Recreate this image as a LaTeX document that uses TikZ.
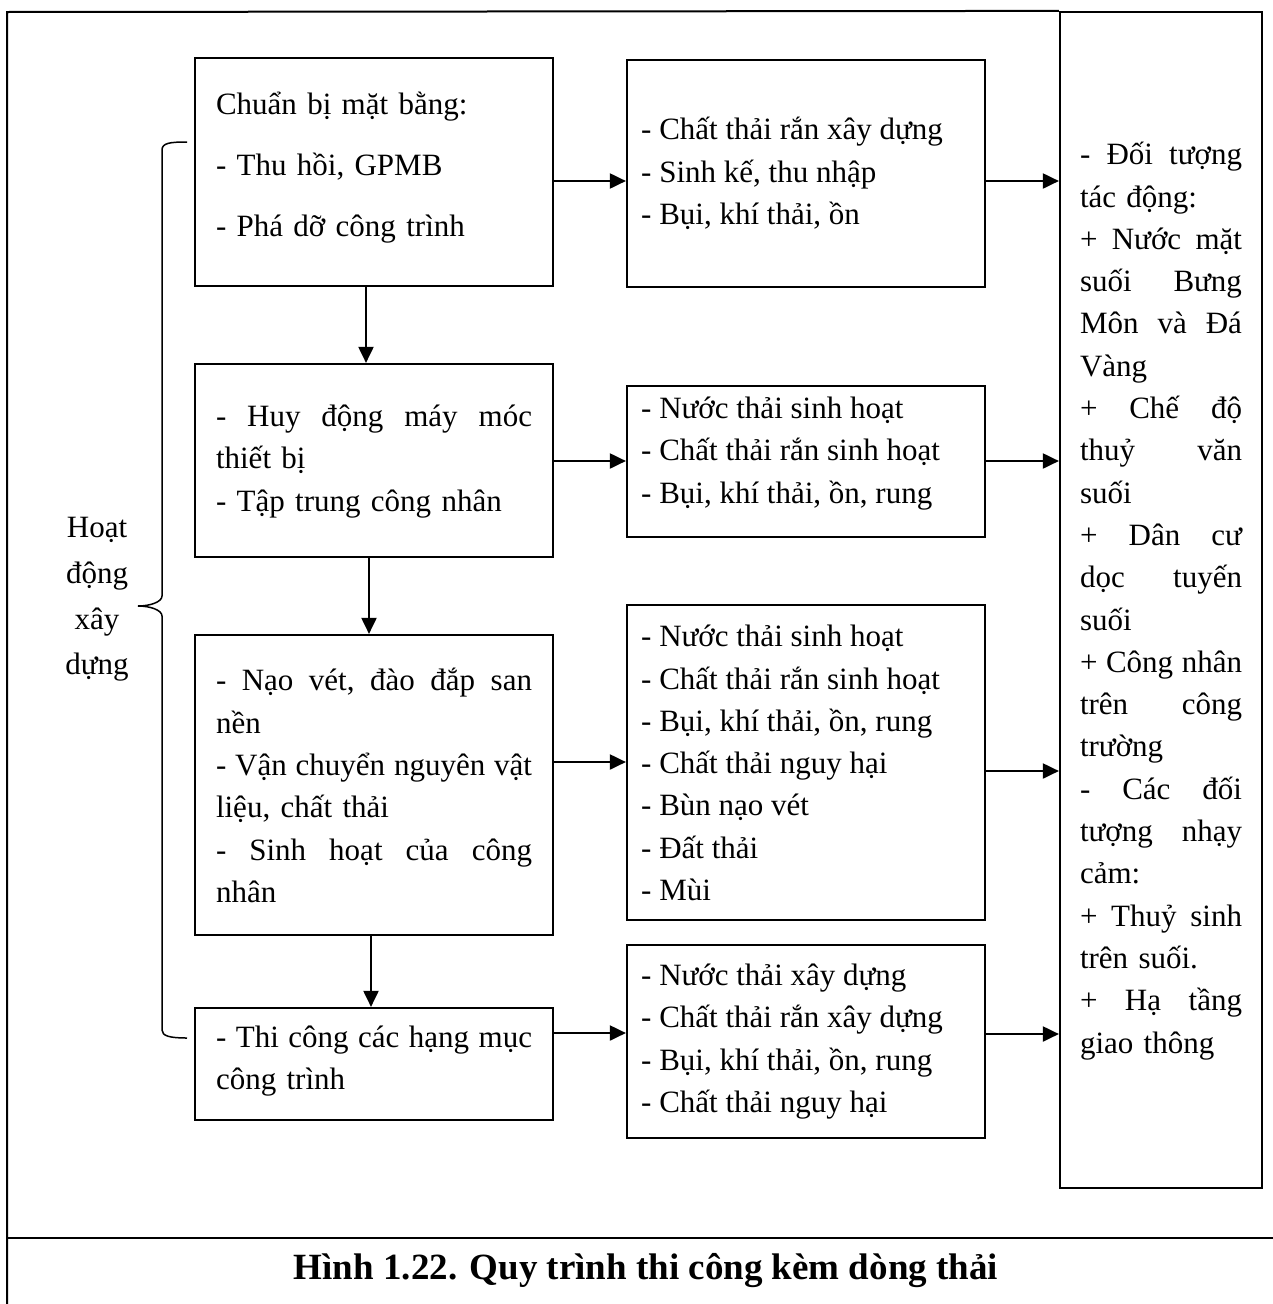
\documentclass[tikz,border=0pt]{standalone}
\usepackage{fontspec}
\setmainfont{Liberation Serif}
\usetikzlibrary{arrows.meta}
\begin{document}
\begin{tikzpicture}[x=1pt,y=-1pt,
  box/.style={draw,line width=2.2pt,inner sep=0pt,minimum width=358pt},
  txt/.style={inner sep=0pt,font=\fontsize{31}{42.3}\selectfont},
  arr/.style={line width=2pt,-{Triangle[length=16pt,width=15pt]}},
  frame/.style={line width=2pt}]
\useasboundingbox (0,0) rectangle (1273,1304);

% left column boxes
\node[box,minimum height=228pt] (b1) at (374,172) {};
\node[box,minimum height=193pt] (b2) at (374,460.5) {};
\node[box,minimum height=300pt] (b3) at (374,785) {};
\node[box,minimum height=112pt] (b4) at (374,1064) {};
% middle column boxes
\node[box,minimum height=227pt] (m1) at (806,173.5) {};
\node[box,minimum height=151pt] (m2) at (806,461.5) {};
\node[box,minimum height=315pt] (m3) at (806,762.5) {};
\node[box,minimum height=193pt] (m4) at (806,1041.5) {};
% right box
\node[box,minimum width=202pt,minimum height=1176pt] (r) at (1161,600) {};

% left texts
\node[txt,text width=316pt,align=left,font=\fontsize{31}{61}\selectfont] (t1) at (374,168)
  {Chuẩn bị mặt bằng:\\- Thu hồi, GPMB\\- Phá dỡ công trình};
\node[txt,text width=316pt,align=left] (t2) at (374,461.5)
  {-\hfill Huy\hfill động\hfill máy\hfill móc\\thiết bị\\- Tập trung công nhân};
\node[txt,text width=316pt,align=left] (t3) at (374,785.5)
  {-\hfill Nạo\hfill vét,\hfill đào\hfill đắp\hfill san\\nền\\-\hfill Vận\hfill chuyển\hfill nguyên\hfill vật\\liệu, chất thải\\-\hfill Sinh\hfill hoạt\hfill của\hfill công\\nhân};
\node[txt,text width=316pt,align=left] (t4) at (374,1061)
  {-\hfill Thi\hfill công\hfill các\hfill hạng\hfill mục\\công trình};

% middle texts
\node[txt,anchor=west,align=left] (u1) at (641,173.5)
  {- Chất thải rắn xây dựng\\- Sinh kế, thu nhập\\- Bụi, khí thải, ồn};
\node[txt,anchor=west,align=left] (u2) at (641,453.5)
  {- Nước thải sinh hoạt\\- Chất thải rắn sinh hoạt\\- Bụi, khí thải, ồn, rung};
\node[txt,anchor=west,align=left] (u3) at (641,763)
  {- Nước thải sinh hoạt\\- Chất thải rắn sinh hoạt\\- Bụi, khí thải, ồn, rung\\- Chất thải nguy hại\\- Bùn nạo vét\\- Đất thải\\- Mùi};
\node[txt,anchor=west,align=left] (u4) at (641,1041.5)
  {- Nước thải xây dựng\\- Chất thải rắn xây dựng\\- Bụi, khí thải, ồn, rung\\- Chất thải nguy hại};

% right text
\node[txt,text width=162pt,align=left] (rt) at (1161,601)
  {-\hfill Đối\hfill tượng\\tác động:\\+\hfill Nước\hfill mặt\\suối\hfill Bưng\\Môn\hfill và\hfill Đá\\Vàng\\+\hfill Chế\hfill độ\\thuỷ\hfill văn\\suối\\+\hfill Dân\hfill cư\\dọc\hfill tuyến\\suối\\+\hfill Công\hfill nhân\\trên\hfill công\\trường\\-\hfill Các\hfill đối\\tượng\hfill nhạy\\cảm:\\+\hfill Thuỷ\hfill sinh\\trên suối.\\+\hfill Hạ\hfill tầng\\giao thông};

% brace label
\node[txt,align=center,font=\fontsize{31}{45.6}\selectfont] (h) at (97,599.5)
  {Hoạt\\động\\xây\\dựng};
\draw[line width=1.5pt] (187,142) .. controls (170,142) and (162,143) .. (162,150)
  -- (162,596) .. controls (162,602) and (150,606) .. (138,606)
  .. controls (150,606) and (162,610) .. (162,616)
  -- (162,1030) .. controls (162,1036) and (170,1038) .. (187,1038);

% vertical arrows
\draw[arr] ([xshift=-8pt]b1.south) -- ([xshift=-8pt]b2.north);
\draw[arr] ([xshift=-5pt]b2.south) -- ([xshift=-5pt]b3.north);
\draw[arr] ([xshift=-3pt]b3.south) -- ([xshift=-3pt]b4.north);
% horizontal arrows
\draw[arr] (b1.east |- 0,181) -- (m1.west |- 0,181);
\draw[arr] (b2.east |- 0,461) -- (m2.west |- 0,461);
\draw[arr] (b3.east |- 0,762) -- (m3.west |- 0,762);
\draw[arr] (b4.east |- 0,1033) -- (m4.west |- 0,1033);
\draw[arr] (m1.east |- 0,181) -- (r.west |- 0,181);
\draw[arr] (m2.east |- 0,461) -- (r.west |- 0,461);
\draw[arr] (m3.east |- 0,771) -- (r.west |- 0,771);
\draw[arr] (m4.east |- 0,1034) -- (r.west |- 0,1034);

% frame
\coordinate (fbl) at (7,1304);
\coordinate (ftl) at (7,12);
\coordinate (cl) at (7,1238);
\coordinate (cr) at (1273,1238);
\draw[frame] (fbl) -- (ftl) -- (r.north west);
\draw[frame] (cl) -- (cr);

% caption
\node[inner sep=0pt,font=\bfseries\fontsize{37}{44}\selectfont] (cap) at (646,1271)
  {Hình 1.22. Quy trình thi công kèm dòng thải};
\end{tikzpicture}
\end{document}
